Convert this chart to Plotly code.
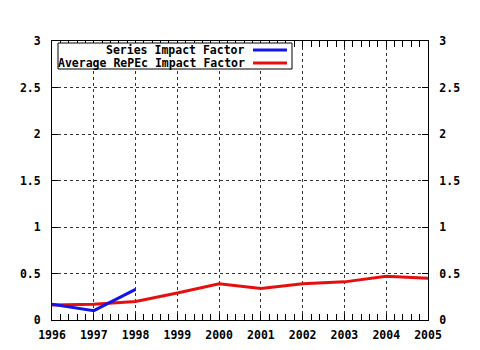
import plotly.graph_objects as go

years_series = [1996, 1997, 1998]
series_if = [0.17, 0.10, 0.33]
years_avg = [1996, 1997, 1998, 1999, 2000, 2001, 2002, 2003, 2004, 2005]
avg_if = [0.16, 0.17, 0.20, 0.29, 0.39, 0.34, 0.39, 0.41, 0.47, 0.45]
series_names = ["Series Impact Factor", "Average RePEc Impact Factor"]
colors = ["#1414e6", "#e60f0f"]
x_ticks = list(range(1996, 2006))
y_ticks = [0, 0.5, 1, 1.5, 2, 2.5, 3]
y_labels = ["0", "0.5", "1", "1.5", "2", "2.5", "3"]

FONT = dict(family="DejaVu Sans Mono", size=11.5, color="black", weight="bold")
LFONT = dict(family="DejaVu Sans Mono", size=11.5, color="black", weight="bold")

fig = go.Figure()
fig.add_trace(go.Scatter(x=years_avg, y=avg_if, mode="lines",
                         line=dict(color=colors[1], width=3), showlegend=False))
fig.add_trace(go.Scatter(x=years_series, y=series_if, mode="lines",
                         line=dict(color=colors[0], width=3), showlegend=False))
# invisible trace to materialise right axis
fig.add_trace(go.Scatter(x=years_avg, y=avg_if, mode="lines", yaxis="y2",
                         line=dict(color="rgba(0,0,0,0)", width=0),
                         showlegend=False, hoverinfo="skip"))

common_y = dict(range=[0, 3], tickvals=y_ticks, ticktext=y_labels,
                ticks="inside", ticklen=6, tickcolor="black",
                showline=True, linecolor="black", linewidth=1,
                tickfont=FONT, zeroline=False, ticklabelstandoff=8,
                automargin=False)

fig.update_layout(
    width=480, height=350,
    margin=dict(l=52, r=52, t=41, b=30, autoexpand=False),
    paper_bgcolor="white", plot_bgcolor="white",
    xaxis=dict(range=[1996, 2005], tickvals=x_ticks, ticks="inside", ticklen=6,
               tickcolor="black", showline=True, linecolor="black", linewidth=1,
               mirror="allticks", tickfont=FONT, zeroline=False,
               showgrid=True, gridcolor="#333", griddash="dot", gridwidth=1,
               minor=dict(dtick=0.2, ticks="inside", ticklen=3, tickcolor="black",
                          showgrid=False),
               ticklabelstandoff=4, automargin=False),
    yaxis=dict(**common_y, showgrid=True, gridcolor="#333", griddash="dot",
               gridwidth=1, side="left"),
    yaxis2=dict(**common_y, overlaying="y", side="right", showgrid=False),
    showlegend=False,
)

# manual gnuplot-style legend
def px(xp):
    return (xp - 52) / 376
def py(yp):
    return (320 - yp) / 279

fig.add_shape(type="rect", xref="paper", yref="paper",
              x0=px(58), x1=px(292), y0=py(69), y1=py(43),
              line=dict(color="black", width=1), fillcolor="white", layer="above")
for i, (name, col) in enumerate(zip(series_names, colors)):
    yy = py(50 + 13 * i)
    fig.add_annotation(x=px(246), y=yy, xref="paper", yref="paper", text=name,
                       showarrow=False, xanchor="right", yanchor="middle", font=LFONT,
                       borderpad=0)
    fig.add_shape(type="line", xref="paper", yref="paper", x0=px(253), x1=px(287),
                  y0=yy, y1=yy, line=dict(color=col, width=3), layer="above")

fig.write_html("out.html")
